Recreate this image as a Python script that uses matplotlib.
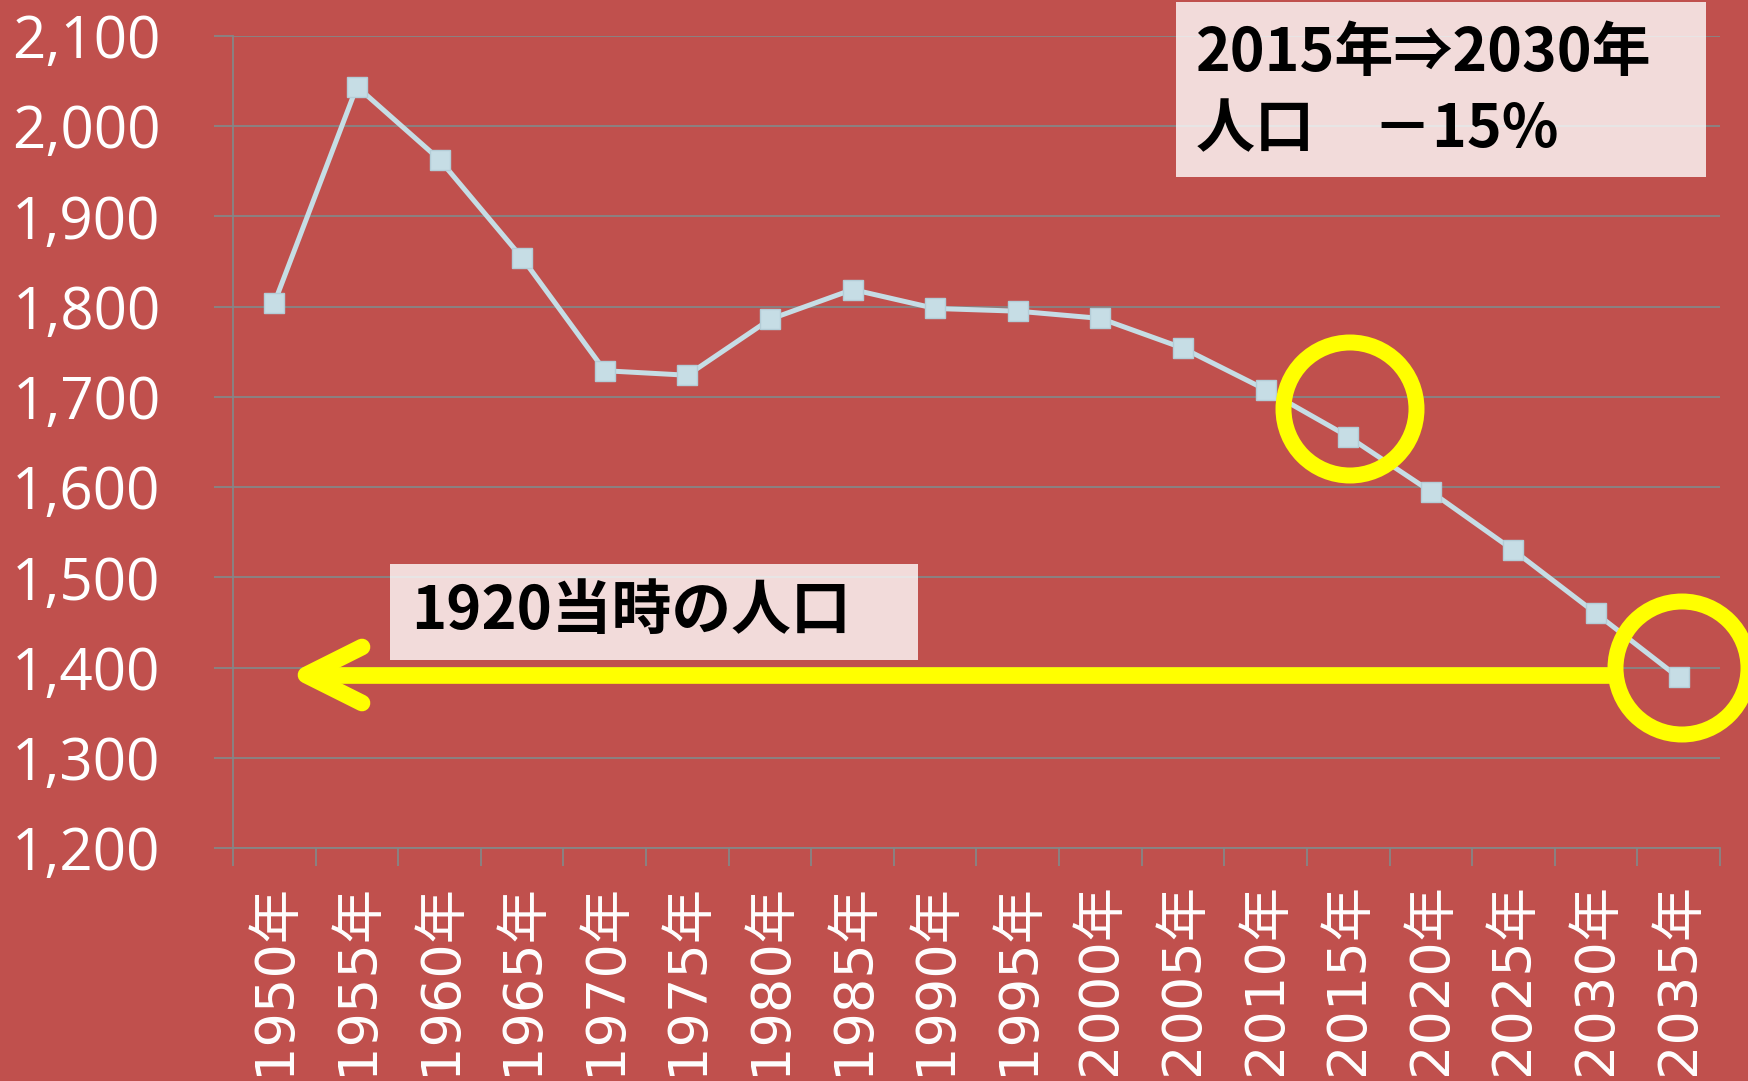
import matplotlib.pyplot as plt
from matplotlib.patches import Rectangle, Ellipse
from matplotlib.lines import Line2D
from matplotlib.ticker import FixedLocator

# data (population, thousands)
years = ["1950年", "1955年", "1960年", "1965年", "1970年", "1975年", "1980年",
         "1985年", "1990年", "1995年", "2000年", "2005年", "2010年", "2015年",
         "2020年", "2025年", "2030年", "2035年"]
population = [1804, 2044, 1963, 1854, 1729, 1724, 1786, 1819, 1798, 1795,
              1787, 1754, 1708, 1656, 1595, 1530, 1460, 1389]
yticks = [1200, 1300, 1400, 1500, 1600, 1700, 1800, 1900, 2000, 2100]
note_top = ["2015年⇒2030年", "人口　－15%"]
note_low = "1920当時の人口"

bg = "#C0504D"
grid_c = "#868686"
line_c = "#C6DDE5"
yellow = "#FFFF00"
W, H = 1749, 1081

fig = plt.figure(figsize=(W / 100, H / 100), dpi=100, facecolor=bg)
ax = fig.add_axes([233 / W, 1 - 848 / H, (1720 - 233) / W, (848 - 36) / H])
ax.set_facecolor(bg)

x = list(range(len(years)))
ax.plot(x, population, color=line_c, lw=3.6, marker="s", ms=14,
        mfc=line_c, mec="#B3CDD7", mew=1, zorder=3)

ax.set_xlim(-0.5, len(years) - 0.5)
ax.set_ylim(1200, 2100)
ax.set_yticks(yticks)
ax.set_yticklabels([f"{v:,}" for v in yticks], fontsize=42, color="white",
                   family="Open Sans")
ax.grid(axis="y", color=grid_c, lw=1.3, zorder=1)
ax.set_axisbelow(True)

ax.set_xticks(x)
ax.set_xticklabels(years, rotation=90, fontsize=39, color="white",
                   family=["DejaVu Sans", "Noto Sans CJK JP"])
ax.xaxis.set_minor_locator(FixedLocator([i - 0.5 for i in range(len(years) + 1)]))
ax.tick_params(axis="x", which="major", length=0, pad=25)
ax.tick_params(axis="x", which="minor", length=13, width=1.3, color=grid_c)
ax.tick_params(axis="y", length=14, width=1.3, color=grid_c, pad=38)

for s in ["top", "right"]:
    ax.spines[s].set_visible(False)
for s in ["left", "bottom"]:
    ax.spines[s].set_color(grid_c)
    ax.spines[s].set_linewidth(1.3)


def fx(px):
    return px / W


def fy(py):
    return 1 - py / H


# note boxes (semi-transparent white)
fig.add_artist(Rectangle((fx(1176), fy(177)), (1706 - 1176) / W, (177 - 2) / H,
                         transform=fig.transFigure, fc="white", alpha=0.8,
                         ec="none", zorder=5))
fig.add_artist(Rectangle((fx(390), fy(660)), (918 - 390) / W, (660 - 564) / H,
                         transform=fig.transFigure, fc="white", alpha=0.8,
                         ec="none", zorder=5))

cjk = ["Noto Sans CJK JP", "DejaVu Sans"]
fig.text(fx(1196), fy(54), note_top[0], fontsize=42.5, fontweight="bold",
         family=cjk, va="center", ha="left", color="black", zorder=6)
fig.text(fx(1196), fy(130), note_top[1], fontsize=42.5, fontweight="bold",
         family=cjk, va="center", ha="left", color="black", zorder=6)
fig.text(fx(411), fy(612), note_low, fontsize=43, fontweight="bold",
         family=cjk, va="center", ha="left", color="black", zorder=6)

# yellow arrow
fig.add_artist(Line2D([fx(1610), fx(315)], [fy(675), fy(675)],
                      transform=fig.transFigure, color=yellow, lw=12,
                      solid_capstyle="butt", zorder=4))
fig.add_artist(Line2D([fx(362), fx(306), fx(362)], [fy(647), fy(675), fy(703)],
                      transform=fig.transFigure, color=yellow, lw=12,
                      solid_capstyle="round", solid_joinstyle="round", zorder=4))

# yellow circles
for cx, cy in [(1350, 409), (1682, 668)]:
    fig.add_artist(Ellipse((fx(cx), fy(cy)), 133 / W, 133 / H,
                           transform=fig.transFigure, fill=False,
                           ec=yellow, lw=11.5, zorder=4))

fig.savefig("out.png", dpi=100, facecolor=bg)
